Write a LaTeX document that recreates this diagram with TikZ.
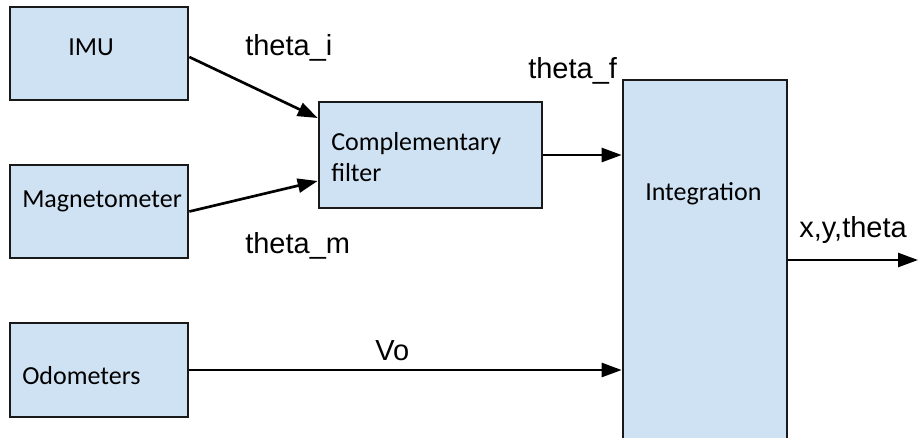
\documentclass[tikz,border=0pt]{standalone}
\usepackage{fontspec}
\setmainfont{Carlito}
\newfontfamily\sigfont{Liberation Sans}
\usepackage{tikz}
\usetikzlibrary{arrows.meta, positioning}
\definecolor{boxblue}{HTML}{CFE2F3}
\tikzstyle{block} = [rectangle, draw=black!90, line width=2pt, fill=boxblue, minimum width=178*0.75pt, minimum height=93*0.75pt, inner sep=0pt]
\tikzstyle{blocktext} = [font=\fontsize{19.5}{23.25}\selectfont, text=black, inner sep=0pt, anchor=base west]
\tikzstyle{signal} = [font=\sigfont\fontsize{21.75}{26}\selectfont, inner sep=0pt, anchor=base west]
\tikzstyle{arrow} = [line width=2pt, -{Triangle[length=15pt,width=10.5pt]}]

\begin{document}
\begin{tikzpicture}[x=0.75pt, y=0.75pt]
		\useasboundingbox (0,0) rectangle (918,437);
		% sensor blocks
		\node (imu) [block] at (99,383.5) {};
		\node (mag) [block] at (99,225.5) {};
		\node (odo) [block, minimum height=94*0.75pt] at (99,67) {};
		\node (cf) [block, minimum width=223*0.75pt, minimum height=106*0.75pt] at (430.5,282) {};
		\node (integ) [block, minimum width=164*0.75pt, minimum height=365*0.75pt] at (705,174.5) {};
		\coordinate (out) at (918,177);
		
		% block texts (base of the last line for the filter)
		\node (imutext) [blocktext] at (68,382) {IMU};
		\node (magtext) [blocktext] at (22,230) {Magnetometer};
		\node (odotext) [blocktext] at (22,53) {Odometers};
		\node (cftext) [blocktext, align=left] at (331,256) {Complementary\\filter};
		\node (integtext) [blocktext] at (645,237) {Integration};
		
		% signals
		\draw [arrow] ([yshift=-3.5*0.75pt]imu.east) -- ([yshift=37*0.75pt]cf.west);
		\draw [arrow] (mag.east) -- ([yshift=-26*0.75pt]cf.west);
		\draw [arrow] (cf.east) -- (cf.east -| integ.west);
		\draw [arrow] (odo.east) -- (odo.east -| integ.west);
		\draw [arrow] ([yshift=2.5*0.75pt]integ.east) -- (out);
		\node (thetai) [signal] at (245,382) {theta\_i};
		\node (thetam) [signal] at (245,184) {theta\_m};
		\node (thetaf) [signal] at (528,359) {theta\_f};
		\node (vo) [signal] at (375,77) {Vo};
		\node (pose) [signal] at (799,200) {x,y,theta};
\end{tikzpicture}
\end{document}
